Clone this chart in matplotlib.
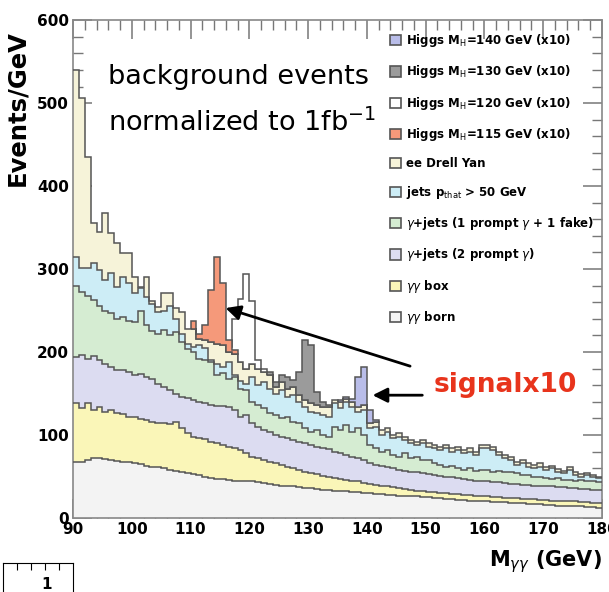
"""
Stacked background M_gammagamma spectrum with Higgs signals (x10).
"""
import numpy as np
import matplotlib.pyplot as plt
from matplotlib.patches import Patch
from matplotlib.ticker import MultipleLocator

# bin edges, 1 GeV bins from 90 to 180
edges = np.arange(90, 181)

# cumulative stack levels (events/GeV), bins 90..179
born = [67, 68, 70, 72, 72, 71, 70, 69, 68, 67,
        66, 65, 63, 62, 61, 60, 58, 57, 56, 54,
        53, 52, 50, 48, 47, 47, 46, 45, 45, 44,
        44, 43, 42, 41, 40, 39, 38, 38, 37, 36,
        36, 35, 34, 34, 33, 32, 32, 31, 31, 30,
        30, 29, 29, 28, 28, 27, 27, 26, 26, 25,
        25, 24, 24, 23, 23, 22, 22, 21, 21, 20,
        20, 19, 19, 19, 18, 18, 18, 17, 17, 17,
        16, 16, 15, 15, 15, 14, 14, 13, 13, 12]
box = [139, 132, 139, 130, 134, 128, 130, 126, 125, 122,
       122, 119, 118, 116, 115, 114, 113, 116, 108, 102,
       98, 96, 95, 92, 90, 88, 86, 84, 82, 78,
       74, 72, 70, 68, 66, 64, 62, 60, 58, 56,
       54, 53, 51, 50, 48, 47, 46, 45, 44, 42,
       41, 40, 39, 38, 37, 36, 35, 34, 33, 32,
       31, 31, 30, 30, 29, 29, 28, 28, 27, 26,
       26, 25, 25, 24, 24, 24, 23, 23, 23, 22,
       22, 21, 21, 20, 20, 20, 19, 19, 18, 18]
prompt2 = [194, 196, 192, 195, 190, 186, 182, 178, 178, 176,
           172, 174, 170, 168, 162, 158, 154, 150, 146, 145,
           142, 140, 138, 136, 135, 135, 134, 130, 122, 124,
           114, 110, 106, 104, 100, 98, 96, 94, 92, 90,
           88, 86, 84, 83, 80, 78, 76, 74, 72, 70,
           66, 64, 63, 61, 60, 58, 57, 56, 55, 54,
           53, 52, 51, 50, 49, 48, 47, 46, 45, 45,
           44, 43, 43, 42, 41, 41, 40, 40, 39, 39,
           38, 38, 37, 37, 36, 36, 35, 35, 34, 34]
fake1 = [280, 272, 268, 263, 255, 250, 247, 240, 242, 238,
         236, 250, 232, 225, 222, 226, 220, 224, 212, 204,
         200, 192, 190, 188, 172, 175, 168, 170, 155, 154,
         140, 136, 132, 126, 124, 120, 122, 116, 114, 108,
         104, 106, 100, 98, 110, 106, 112, 104, 108, 100,
         88, 84, 80, 82, 76, 74, 78, 72, 74, 70,
         70, 66, 64, 62, 63, 60, 58, 60, 57, 58,
         58, 56, 57, 55, 56, 54, 52, 52, 50, 50,
         48, 47, 48, 46, 46, 45, 46, 44, 44, 43]
jets = [314, 301, 301, 307, 299, 287, 295, 278, 290, 283,
        271, 277, 266, 258, 248, 250, 256, 240, 222, 210,
        206, 208, 205, 190, 186, 182, 188, 172, 165, 162,
        170, 160, 164, 156, 150, 154, 146, 148, 140, 134,
        128, 126, 124, 122, 138, 132, 140, 134, 128, 130,
        108, 110, 100, 104, 96, 98, 94, 90, 88, 90,
        86, 84, 82, 84, 80, 82, 78, 80, 76, 84,
        84, 82, 76, 72, 70, 64, 66, 62, 60, 62,
        58, 60, 56, 54, 58, 52, 50, 52, 50, 48]
dy = [540, 506, 435, 355, 345, 367, 343, 332, 319, 319,
      290, 278, 290, 262, 254, 271, 271, 253, 248, 228,
      228, 216, 214, 212, 210, 208, 200, 198, 188, 180,
      186, 180, 176, 172, 158, 164, 156, 158, 148, 142,
      138, 136, 134, 134, 142, 140, 144, 140, 134, 136,
      114, 116, 106, 108, 100, 102, 98, 94, 92, 94,
      90, 88, 86, 88, 84, 86, 82, 84, 80, 88,
      88, 86, 80, 76, 74, 68, 70, 66, 64, 66,
      61, 63, 59, 57, 61, 55, 53, 54, 52, 50]

# Higgs signals x10, first bin and per-bin values on top of the background
h115_start, h115 = 110, [10, 6, 18, 63, 104, 75, 14, 4]
h120_start, h120 = 116, [6, 42, 76, 114, 76, 10, 4]
h130_start, h130 = 123, [4, 6, 8, 14, 8, 28, 72, 70, 16, 6, 2]
h140_start, h140 = 135, [2, 2, 4, 36, 46, 16, 2]

bkg_layers = [
    (dy, '#f6f3d9', 'ee Drell Yan'),
    (jets, '#cdedf6', r'jets p$_{\rm that}$ > 50 GeV'),
    (fake1, '#d5ecd2', r'$\gamma$+jets (1 prompt $\gamma$ + 1 fake)'),
    (prompt2, '#dcdcf1', r'$\gamma$+jets (2 prompt $\gamma$)'),
    (box, '#faf6b8', r'$\gamma\gamma$ box'),
    (born, '#f3f3f3', r'$\gamma\gamma$ born'),
]
higgs = [
    (h140_start, h140, '#b9bde9', r'Higgs M$_{\rm H}$=140 GeV (x10)'),
    (h130_start, h130, '#9b9b9b', r'Higgs M$_{\rm H}$=130 GeV (x10)'),
    (h120_start, h120, '#ffffff', r'Higgs M$_{\rm H}$=120 GeV (x10)'),
    (h115_start, h115, '#f5997a', r'Higgs M$_{\rm H}$=115 GeV (x10)'),
]

edge = '#555555'
fig = plt.figure(figsize=(6.09, 5.92), dpi=100)
ax = fig.add_axes([0.1199, 0.125, 0.8686, 0.841])

# background stack, drawn from top level downwards like THStack
for vals, col, lab in bkg_layers:
    ax.stairs(vals, edges, baseline=0, fill=True, facecolor=col, lw=0, zorder=2)
    ax.stairs(vals, edges, baseline=None, color=edge, lw=1.1, zorder=3)

bkg = np.array(dy)
for start, sig, col, lab in higgs:
    i0 = start - 90
    sub = bkg[i0:i0 + len(sig)]
    e = edges[i0:i0 + len(sig) + 1]
    ax.stairs(sub + np.array(sig), e, baseline=sub, fill=True,
              facecolor=col, edgecolor=edge, lw=1.1, zorder=4)

ax.set_xlim(90, 180)
ax.set_ylim(0, 600)
ax.xaxis.set_major_locator(MultipleLocator(10))
ax.xaxis.set_minor_locator(MultipleLocator(2))
ax.yaxis.set_major_locator(MultipleLocator(100))
ax.yaxis.set_minor_locator(MultipleLocator(20))
ax.tick_params(which='both', direction='in', top=True, right=True,
               color='#777777', labelsize=11, pad=3)
ax.tick_params(which='major', length=14, width=1.1)
ax.tick_params(which='minor', length=7, width=1.0)
for lbl in ax.get_xticklabels() + ax.get_yticklabels():
    lbl.set_fontweight('bold')
for s in ax.spines.values():
    s.set_color('#888888')
    s.set_linewidth(1.2)

ax.set_ylabel('Events/GeV', fontsize=17.5, fontweight='bold', loc='top', labelpad=2)
ax.yaxis.set_label_coords(-0.082, 0.98)
ax.set_xlabel(r'M$_{\gamma\gamma}$ (GeV)', fontsize=15, fontweight='bold',
              loc='right', labelpad=8)

ax.text(0.066, 0.886, 'background events', transform=ax.transAxes,
        fontsize=19.5, va='center', ha='left', zorder=6)
ax.text(0.066, 0.793, r'normalized to 1fb$^{-1}$', transform=ax.transAxes,
        fontsize=19.5, va='center', ha='left', zorder=6)
ax.text(0.681, 0.267, 'signalx10', transform=ax.transAxes, color='#e8341c',
        fontsize=19, fontweight='bold', va='center', ha='left', zorder=6)

ax.annotate('', xy=(115.5, 254), xytext=(147.8, 182),
            arrowprops=dict(arrowstyle='-|>', lw=2, color='k', mutation_scale=22),
            zorder=6)
ax.annotate('', xy=(140.5, 148), xytext=(149.9, 148),
            arrowprops=dict(arrowstyle='-|>', lw=2, color='k', mutation_scale=22),
            zorder=6)

handles = [Patch(facecolor=c, edgecolor=edge, lw=1.2) for _, _, c, _ in higgs]
labels = [l for _, _, _, l in higgs]
handles += [Patch(facecolor=c, edgecolor=edge, lw=1.2) for _, c, _ in bkg_layers]
labels += [l for _, _, l in bkg_layers]
leg = ax.legend(handles, labels, loc='upper left', bbox_to_anchor=(0.59, 0.985),
                frameon=False, prop={'size': 8.5, 'weight': 'bold'},
                handlelength=0.95, handleheight=0.95, handletextpad=0.4,
                labelspacing=1.2, borderaxespad=0)
leg.set_zorder(7)

# fragment of the neighbouring figure at the bottom left
frag = fig.add_axes([3 / 609, -0.05, 70 / 609, 29 / 592 + 0.05])
frag.set_xlim(0, 5)
frag.set_ylim(0, 1)
frag.set_xticks([1, 2, 3, 4])
frag.set_yticks([])
frag.tick_params(axis='x', direction='in', top=True, bottom=False,
                 labelbottom=False, length=5)
frag.spines['bottom'].set_visible(False)
frag.text(3.1, 0.5, '1', fontsize=11, fontweight='bold', ha='center', va='bottom')

fig.savefig('out.png', dpi=100)
